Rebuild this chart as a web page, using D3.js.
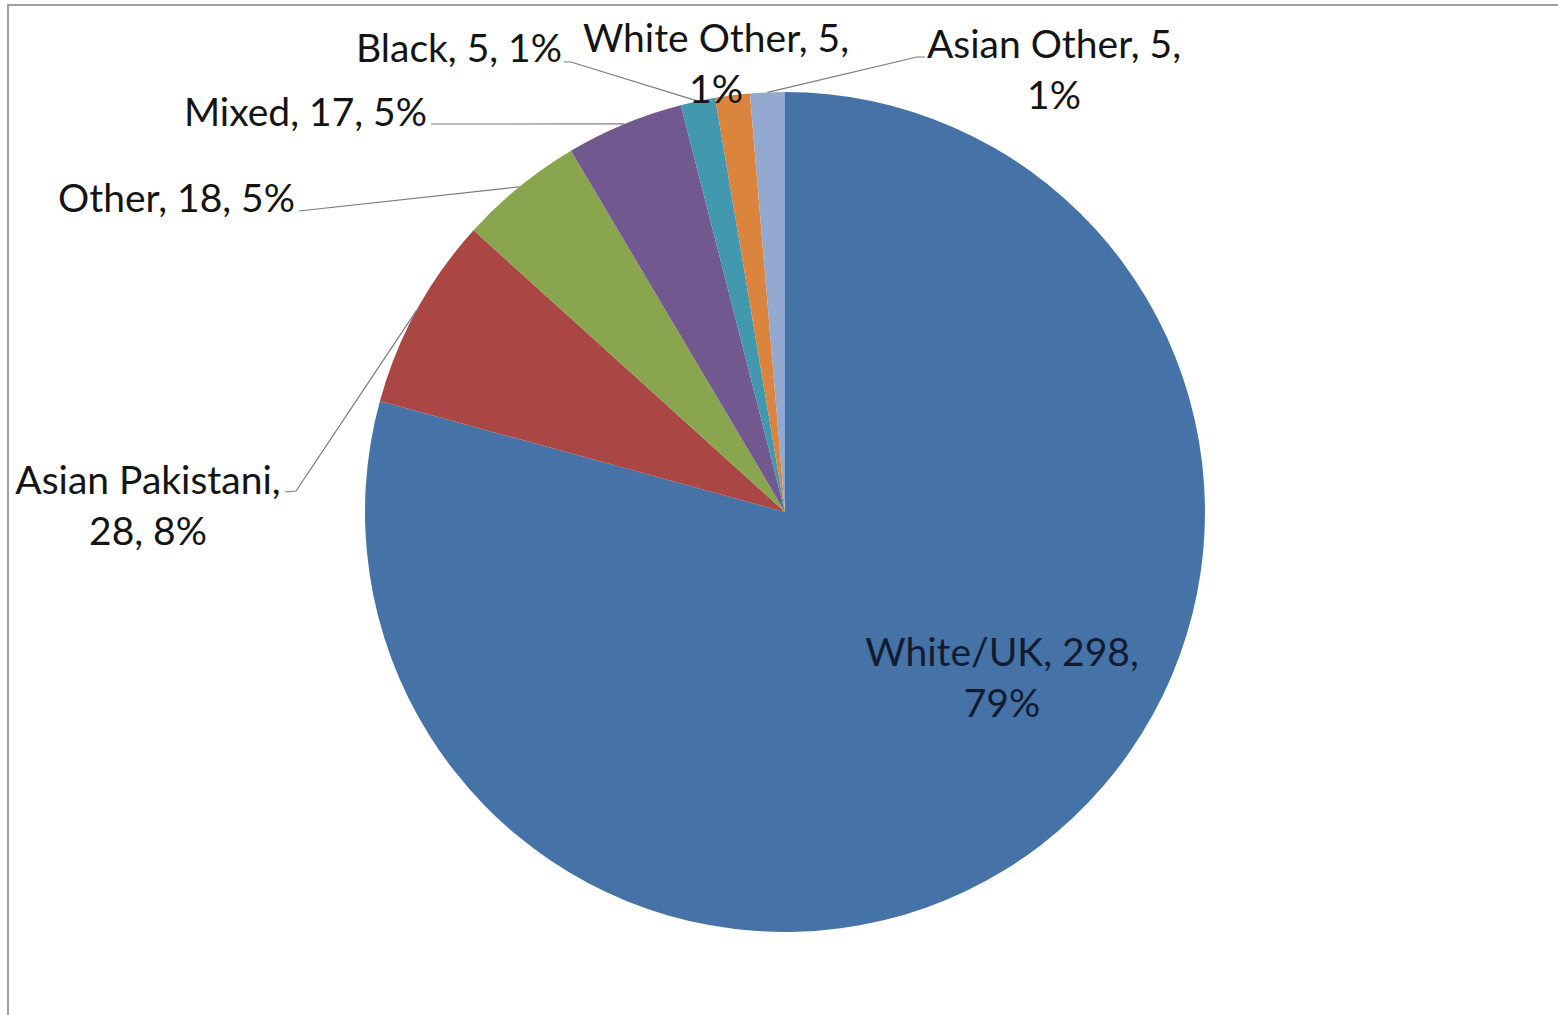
<!DOCTYPE html>
<meta charset="utf-8">
<script src="https://d3js.org/d3.v7.min.js"></script>
<style>
  body { margin: 0; background: #fff; }
</style>
<div id="chart"></div>
<script>

// data
var categories = ["White/UK", "Asian Pakistani", "Other", "Mixed", "Black", "White Other", "Asian Other"];
var values = [298, 28, 18, 17, 5, 5, 5];
var pctLabels = ["79%", "8%", "5%", "5%", "1%", "1%", "1%"];
var colors = ["#4572A7", "#AA4643", "#89A54E", "#71588F", "#4198AF", "#DB843D", "#93A9CF"];

// label placement (brk: 0 = one line, 1 = break after name, 2 = break after value)
var labelLayout = [
  {x: 1002, y: 666, anchor: "middle", brk: 2, inside: true},
  {x: 148, y: 494, anchor: "middle", brk: 1, lead: [[285, 492], [296, 491]]},
  {x: 295, y: 212, anchor: "end", brk: 0, lead: [[299, 211]]},
  {x: 427, y: 126, anchor: "end", brk: 0, lead: [[431, 124]]},
  {x: 562, y: 62, anchor: "end", brk: 0, lead: [[564, 62], [571, 62]]},
  {x: 716, y: 52, anchor: "middle", brk: 2},
  {x: 1054, y: 58, anchor: "middle", brk: 2, lead: [[925, 57], [917, 57]]}
];

var W = 1558, H = 1015;
var cx = 785, cy = 512, radius = 420;

var svg = d3.select("#chart")
  .append("svg")
    .attr("width", W)
    .attr("height", H);

// chart area border
svg.append("rect")
  .attr("x", 8).attr("y", 5)
  .attr("width", W + 20).attr("height", H + 20)
  .attr("fill", "#fff")
  .attr("stroke", "#8a8a8a")
  .attr("stroke-width", 1.6);

var g = svg.append("g")
  .attr("transform", "translate(" + cx + "," + cy + ")");

var pie = d3.pie().sort(null).value(function(d) { return d; });
var arcs = pie(values);

var arc = d3.arc().innerRadius(0).outerRadius(radius);
var edge = d3.arc().innerRadius(radius).outerRadius(radius);

g.selectAll("path.slice")
  .data(arcs)
  .enter()
  .append("path")
    .attr("class", "slice")
    .attr("d", arc)
    .attr("fill", function(d, i) { return colors[i]; });

// leader lines
var line = d3.line();
arcs.forEach(function(d, i) {
  var L = labelLayout[i];
  if (!L.lead) return;
  var pts = L.lead.map(function(p) { return [p[0] - cx, p[1] - cy]; });
  pts.push(edge.centroid(d));
  g.append("path")
    .attr("d", line(pts))
    .attr("fill", "none")
    .attr("stroke", "#7a7a7a")
    .attr("stroke-width", 1.2);
});

// labels
var fontSize = 39, lineH = 50.5;
arcs.forEach(function(d, i) {
  var L = labelLayout[i];
  var parts = [categories[i] + ",", values[i] + ",", pctLabels[i]];
  var lines;
  if (L.brk === 0) lines = [parts.join(" ")];
  else lines = [parts.slice(0, L.brk).join(" "), parts.slice(L.brk).join(" ")];

  var t = svg.append("text")
    .attr("x", L.x)
    .attr("y", L.y)
    .attr("text-anchor", L.anchor)
    .style("font-family", "Lato, 'Open Sans', sans-serif")
    .style("font-size", fontSize + "px")
    .style("fill", L.inside ? "#121c30" : "#141414");

  lines.forEach(function(s, k) {
    t.append("tspan")
      .attr("x", L.x)
      .attr("dy", k === 0 ? 0 : lineH)
      .text(s);
  });
});

</script>
